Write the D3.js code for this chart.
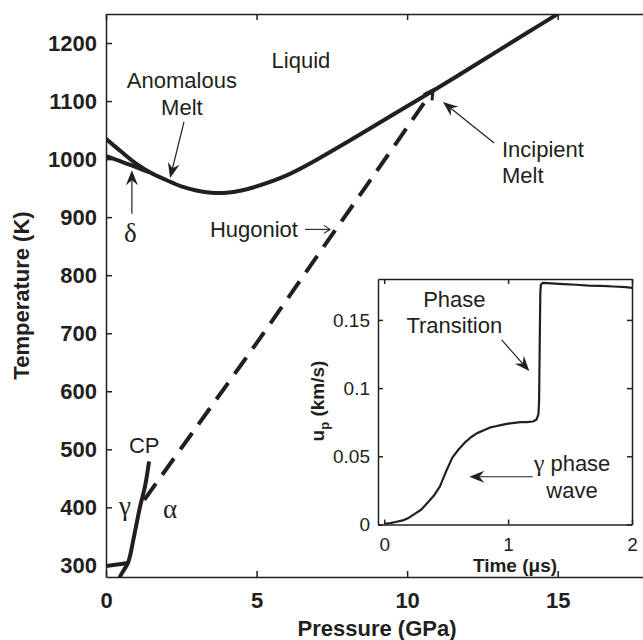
<!DOCTYPE html>
<html lang="en">
<head>
<meta charset="UTF-8">
<title>Phase diagram with Hugoniot</title>
<script src="https://d3js.org/d3.v7.min.js"></script>
<style>
    body { margin: 0; background: #fff; }
    svg { display: block; font-family: "Liberation Sans", Arial, Helvetica, sans-serif; }
    .axis path, .axis line { stroke: #231f20; stroke-width: 1.5; }
    .axis.main text { font: bold 22px "Liberation Sans", Arial, sans-serif; fill: #231f20; }
    .axis.inset text { font: 19px "Liberation Sans", Arial, sans-serif; fill: #231f20; }
    .title { font-weight: bold; font-size: 22px; fill: #231f20; }
    .note { font-size: 22px; fill: #231f20; }
    .greek { font-family: "Liberation Serif", "Times New Roman", serif; font-size: 27px; fill: #231f20; }
</style>
</head>
<body>
<svg id="chart" width="643" height="640"></svg>
<script>
// main chart ticks
const pressureTicks = [0, 5, 10, 15];
const temperatureTicks = [300, 400, 500, 600, 700, 800, 900, 1000, 1100, 1200];

// melt curve (liquidus)
const meltP = [0, 0.5, 1.0, 1.5, 2.0, 2.5, 3.0, 3.5, 4.0, 4.5, 5.0, 6.0, 7.0, 8.0, 9.0, 10.0, 11.0, 12.0, 13.0, 14.0, 15.0, 15.5];
const meltT = [1035, 1013, 992, 976, 964, 953, 946, 942, 942, 946, 953, 972, 999, 1029, 1060, 1091, 1122, 1154, 1186, 1218, 1250, 1266];

// delta phase boundary
const deltaP = [0, 0.55, 1.0, 1.45];
const deltaT = [1005, 995, 986, 977];

// gamma / alpha boundary up to the critical point
const gammaAlphaP = [0.40, 0.465, 0.74, 0.907, 1.13, 1.295, 1.43];
const gammaAlphaT = [270, 280.5, 306, 344, 401, 436, 479];

// short segment near ambient
const ambientP = [0, 0.74];
const ambientT = [299, 304];

// Hugoniot (dashed)
const hugoniotP = [1.27, 3, 5, 7, 9, 10.86];
const hugoniotT = [413, 538, 683, 832, 980, 1119];

// inset: particle velocity history
const timeTicks = [0, 1, 2];
const upTicks = [0, 0.05, 0.1, 0.15];
const timeUs = [0, 0.05, 0.1, 0.15, 0.2, 0.25, 0.3, 0.35, 0.4, 0.45, 0.5, 0.55, 0.6, 0.65, 0.7, 0.75, 0.8, 0.85, 0.9, 0.95, 1.0, 1.05, 1.1, 1.15, 1.2, 1.23, 1.245, 1.25, 1.255, 1.26, 1.265, 1.28, 1.35, 1.45, 1.55, 1.65, 1.75, 1.85, 1.95, 2.0];
const upKms = [0.0005, 0.001, 0.002, 0.003, 0.005, 0.008, 0.011, 0.016, 0.021, 0.028, 0.039, 0.049, 0.055, 0.06, 0.064, 0.067, 0.069, 0.071, 0.072, 0.073, 0.074, 0.0745, 0.075, 0.075, 0.0755, 0.077, 0.081, 0.09, 0.13, 0.17, 0.176, 0.1772, 0.1768, 0.1762, 0.1758, 0.1752, 0.175, 0.1745, 0.174, 0.1735];

const ink = "#231f20";
const svg = d3.select("#chart");

// scales
const x = d3.scaleLinear().domain([0, 18]).range([106, 648]);
const y = d3.scaleLinear().domain([280, 1250]).range([577, 14]);
const xi = d3.scaleLinear().domain([-0.05, 2]).range([378, 632]);
const yi = d3.scaleLinear().domain([0, 0.18]).range([524.5, 279]);

const defs = svg.append("defs");
defs.append("clipPath").attr("id", "main-clip")
    .append("rect").attr("x", 106).attr("y", 14).attr("width", 542).attr("height", 563);
defs.append("clipPath").attr("id", "inset-clip")
    .append("rect").attr("x", 378).attr("y", 279).attr("width", 254).attr("height", 245.5);

// arrow with filled barbed head
function arrow(g, x1, y1, x2, y2) {
    const a = Math.atan2(y2 - y1, x2 - x1);
    const len = 15, back = 10, half = 6;
    g.append("line")
        .attr("x1", x1).attr("y1", y1)
        .attr("x2", x2 - back * Math.cos(a)).attr("y2", y2 - back * Math.sin(a))
        .attr("stroke", ink).attr("stroke-width", 1.2);
    g.append("path")
        .attr("d", `M0,0L${-len},${-half}L${-back},0L${-len},${half}Z`)
        .attr("transform", `translate(${x2},${y2}) rotate(${a * 180 / Math.PI})`)
        .attr("fill", ink);
}

// main lines
const line = d3.line().x(d => x(d[0])).y(d => y(d[1])).curve(d3.curveCatmullRom);
const plot = svg.append("g").attr("clip-path", "url(#main-clip)");

[[meltP, meltT], [deltaP, deltaT], [gammaAlphaP, gammaAlphaT], [ambientP, ambientT]].forEach(([p, t]) => {
    plot.append("path")
        .datum(d3.zip(p, t))
        .attr("d", line)
        .attr("fill", "none")
        .attr("stroke", ink)
        .attr("stroke-width", 4);
});

plot.append("path")
    .datum(d3.zip(hugoniotP, hugoniotT))
    .attr("d", line)
    .attr("fill", "none")
    .attr("stroke", ink)
    .attr("stroke-width", 4)
    .attr("stroke-dasharray", "20,11");

// small head at the end of the Hugoniot
const hn = hugoniotP.length;
const hAng = Math.atan2(y(hugoniotT[hn - 1]) - y(hugoniotT[hn - 2]), x(hugoniotP[hn - 1]) - x(hugoniotP[hn - 2]));
plot.append("path")
    .attr("d", "M-9,-5L0,0L-9,5")
    .attr("transform", `translate(${x(hugoniotP[hn - 1])},${y(hugoniotT[hn - 1])}) rotate(${hAng * 180 / Math.PI})`)
    .attr("fill", "none").attr("stroke", ink).attr("stroke-width", 3);

// main axes (ticks point inward, box on)
svg.append("g").attr("class", "axis main").attr("transform", "translate(0,577)")
    .call(d3.axisBottom(x).tickValues(pressureTicks).tickSizeInner(-6).tickSizeOuter(0).tickPadding(15.5).tickFormat(d3.format("d")));
svg.append("g").attr("class", "axis main").attr("transform", "translate(0,14)")
    .call(d3.axisTop(x).tickValues(pressureTicks).tickSizeInner(-6).tickSizeOuter(0).tickFormat(""));
svg.append("g").attr("class", "axis main").attr("transform", "translate(106,0)")
    .call(d3.axisLeft(y).tickValues(temperatureTicks).tickSizeInner(-6).tickSizeOuter(0).tickPadding(9).tickFormat(d3.format("d")));
svg.append("g").attr("class", "axis main").attr("transform", "translate(648,0)")
    .call(d3.axisRight(y).tickValues([]).tickSizeOuter(0));

svg.append("text").attr("class", "title")
    .attr("x", 377).attr("y", 636).attr("text-anchor", "middle")
    .text("Pressure (GPa)");
svg.append("text").attr("class", "title")
    .attr("transform", "translate(29,295.5) rotate(-90)").attr("text-anchor", "middle")
    .text("Temperature (K)");

// annotations
const notes = svg.append("g");
notes.append("text").attr("class", "note").attr("x", x(5.5)).attr("y", y(1157)).text("Liquid");
notes.append("text").attr("class", "note").attr("x", x(2.52)).attr("y", y(1122.5)).attr("text-anchor", "middle").text("Anomalous");
notes.append("text").attr("class", "note").attr("x", x(2.52)).attr("y", y(1076)).attr("text-anchor", "middle").text("Melt");
arrow(notes, x(2.59), y(1064), x(2.13), y(967.5));

notes.append("text").attr("class", "greek").attr("x", x(0.81)).attr("y", y(857)).attr("text-anchor", "middle").text("δ");
arrow(notes, x(0.86), y(906), x(0.86), y(981));

// Hugoniot label with a thin pointer drawn after the word
const hugText = notes.append("text").attr("class", "note").attr("x", x(3.45)).attr("y", y(866)).text("Hugoniot");
const hugEnd = x(3.45) + hugText.node().getComputedTextLength();
const hugY = y(866) - 7.5;
notes.append("line")
    .attr("x1", hugEnd + 7).attr("y1", hugY).attr("x2", hugEnd + 32).attr("y2", hugY)
    .attr("stroke", ink).attr("stroke-width", 1.1);
notes.append("path")
    .attr("d", `M${hugEnd + 26},${hugY - 4}L${hugEnd + 32},${hugY}L${hugEnd + 26},${hugY + 4}`)
    .attr("fill", "none").attr("stroke", ink).attr("stroke-width", 1.1);

notes.append("text").attr("class", "note").attr("x", x(13.15)).attr("y", y(1003.6)).text("Incipient");
notes.append("text").attr("class", "note").attr("x", x(13.15)).attr("y", y(958.8)).text("Melt");
arrow(notes, x(12.89), y(1027.7), x(11.19), y(1098.4));

notes.append("text").attr("class", "note").attr("x", x(0.76)).attr("y", y(493.6)).text("CP");
notes.append("text").attr("class", "greek").attr("x", x(0.63)).attr("y", y(387)).attr("text-anchor", "middle").text("γ");
notes.append("text").attr("class", "greek").attr("x", x(2.13)).attr("y", y(381.6)).attr("text-anchor", "middle").text("α");

// inset
const inset = svg.append("g");
inset.append("rect").attr("x", 378).attr("y", 279).attr("width", 254).attr("height", 245.5).attr("fill", "#fff");

const iline = d3.line().x(d => xi(d[0])).y(d => yi(d[1])).curve(d3.curveLinear);
inset.append("path")
    .datum(d3.zip(timeUs, upKms))
    .attr("clip-path", "url(#inset-clip)")
    .attr("d", iline)
    .attr("fill", "none")
    .attr("stroke", ink)
    .attr("stroke-width", 2.2)
    .attr("stroke-linejoin", "round");

inset.append("g").attr("class", "axis inset").attr("transform", "translate(0,524.5)")
    .call(d3.axisBottom(xi).tickValues(timeTicks).tickSizeInner(-5).tickSizeOuter(0).tickPadding(13.5).tickFormat(d3.format("d")));
inset.append("g").attr("class", "axis inset").attr("transform", "translate(0,279)")
    .call(d3.axisTop(xi).tickValues(timeTicks).tickSizeInner(-5).tickSizeOuter(0).tickFormat(""));
inset.append("g").attr("class", "axis inset").attr("transform", "translate(378,0)")
    .call(d3.axisLeft(yi).tickValues(upTicks).tickSizeInner(-5).tickSizeOuter(0).tickPadding(8).tickFormat(d3.format("")));
inset.append("g").attr("class", "axis inset").attr("transform", "translate(632,0)")
    .call(d3.axisRight(yi).tickValues(upTicks).tickSizeInner(-5).tickSizeOuter(0).tickFormat(""));

inset.append("text").attr("class", "title").style("font-size", "19px")
    .attr("x", 515).attr("y", 572).attr("text-anchor", "middle")
    .text("Time (μs)");
const upLabel = inset.append("text").attr("class", "title").style("font-size", "19px")
    .attr("transform", "translate(324,401) rotate(-90)").attr("text-anchor", "middle");
upLabel.append("tspan").text("u");
upLabel.append("tspan").attr("dy", 5).style("font-size", "13px").text("p");
upLabel.append("tspan").attr("dy", -5).text(" (km/s)");

inset.append("text").attr("class", "note").attr("x", xi(0.566)).attr("y", yi(0.1597)).attr("text-anchor", "middle").text("Phase");
inset.append("text").attr("class", "note").attr("x", xi(0.566)).attr("y", yi(0.1404)).attr("text-anchor", "middle").text("Transition");
arrow(inset, xi(0.948), yi(0.1353), xi(1.171), yi(0.1125));

const gLabel = inset.append("text").attr("class", "note").attr("x", xi(1.516)).attr("y", yi(0.0394)).attr("text-anchor", "middle");
gLabel.append("tspan").attr("class", "greek").style("font-size", "24px").text("γ");
gLabel.append("tspan").text(" phase");
inset.append("text").attr("class", "note").attr("x", xi(1.516)).attr("y", yi(0.0194)).attr("text-anchor", "middle").text("wave");
arrow(inset, xi(1.199), yi(0.035), xi(0.687), yi(0.035));
</script>
</body>
</html>
